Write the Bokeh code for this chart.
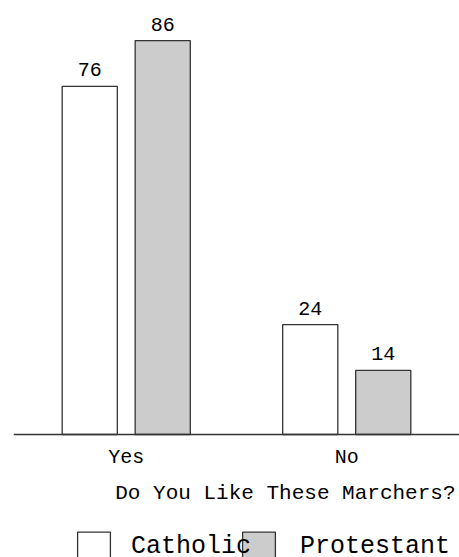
from bokeh.plotting import figure
from bokeh.models import (FactorRange, LabelSet, ColumnDataSource, Legend,
                          LegendItem, Label)
from bokeh.transform import dodge
from bokeh.core.properties import value
from bokeh.embed import file_html
from bokeh.resources import INLINE

categories = ["Yes", "No"]
catholic = [76, 24]
protestant = [86, 14]
series_names = ["Catholic", "Protestant"]
axis_title = "Do You Like These Marchers?"

FONT = "Liberation Mono"
EDGE = "#333333"

src = ColumnDataSource(dict(
    cat=categories,
    catholic=catholic,
    protestant=protestant,
    catholic_lbl=[str(v) for v in catholic],
    protestant_lbl=[str(v) for v in protestant],
))

p = figure(width=459, height=557,
           x_range=FactorRange(*categories, range_padding=0.0113),
           y_range=(-26.85, 93),
           output_backend="svg", toolbar_location=None,
           y_axis_location=None,
           min_border_left=13, min_border_right=0, min_border_top=8,
           min_border_bottom=0)

off = 0.1655
bw = 0.25
r1 = p.vbar(x=dodge("cat", -off, range=p.x_range), top="catholic", width=bw,
            source=src, fill_color="white", line_color=EDGE, line_width=1.3)
r2 = p.vbar(x=dodge("cat", off, range=p.x_range), top="protestant", width=bw,
            source=src, fill_color="#cccccc", line_color=EDGE, line_width=1.3)

for col, o in (("catholic", -off), ("protestant", off)):
    p.add_layout(LabelSet(x=dodge("cat", o, range=p.x_range), y=col,
                          text=col + "_lbl", source=src,
                          text_align="center", text_baseline="alphabetic",
                          y_offset=10, text_font=value(FONT),
                          text_font_size="20px", text_color="black"))

p.xgrid.visible = False
p.ygrid.visible = False
p.outline_line_color = None

ax = p.xaxis[0]
ax.fixed_location = 0
ax.major_tick_out = 0
ax.major_tick_in = 0
ax.minor_tick_out = 0
ax.axis_line_color = EDGE
ax.axis_line_width = 1.3
ax.major_label_text_font = FONT
ax.major_label_text_font_size = "20px"
ax.major_label_text_color = "black"
ax.major_label_standoff = 11

# axis title, right-aligned under the axis
p.add_layout(Label(x=442, y=64, x_units="screen", y_units="screen",
                   text=axis_title, text_align="right", text_baseline="middle",
                   text_font=FONT, text_font_size="21px", text_color="black"))

common = dict(orientation="horizontal", glyph_width=41, glyph_height=37,
              padding=0, margin=0, background_fill_alpha=0,
              border_line_color=None, label_text_font=FONT,
              label_text_font_size="25px", label_text_color="black")
# Protestant first so that the Catholic label is drawn over its swatch
p.add_layout(Legend(items=[LegendItem(label=series_names[1], renderers=[r2])],
                    location=(225, -8), label_standoff=21, **common))
p.add_layout(Legend(items=[LegendItem(label=series_names[0], renderers=[r1])],
                    location=(60, -8), label_standoff=17, **common))

open("out.html", "w").write(file_html(p, INLINE))
